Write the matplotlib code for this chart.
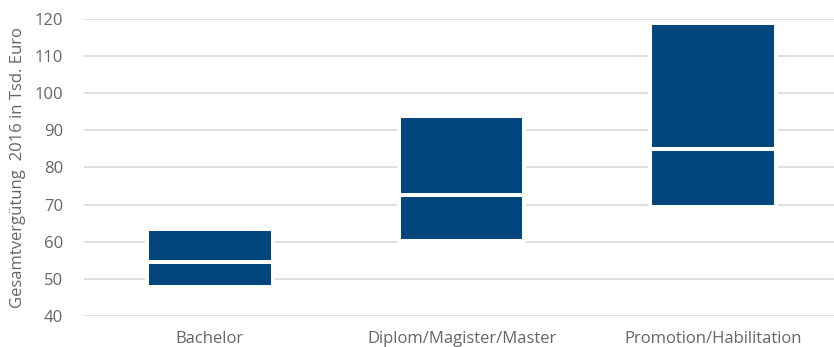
import numpy as np
import matplotlib.pyplot as plt

# Abschluss-Kategorien und Quartile der Gesamtvergütung (Tsd. Euro)
categories = ['Bachelor', 'Diplom/Magister/Master', 'Promotion/Habilitation']
lower_quartile = [47.8, 60.3, 69.4]
median = [54.5, 72.6, 85.1]
upper_quartile = [63.4, 93.8, 118.8]

blue = '#00457c'
grey = '#666666'
plt.rcParams['font.family'] = ['Open Sans', 'DejaVu Sans']

fig = plt.figure(figsize=(8.34, 3.47), dpi=100)
ax = fig.add_axes([0.1007, 0.0893, 0.8993, 0.856])

x = np.arange(len(categories))
low = np.array(lower_quartile)
med = np.array(median)
up = np.array(upper_quartile)

# lower box (Q1 to median) and upper box (median to Q3)
ax.bar(x, med - low, bottom=low, width=0.5, color=blue,
       edgecolor='white', linewidth=2.9, zorder=3)
ax.bar(x, up - med, bottom=med, width=0.5, color=blue,
       edgecolor='white', linewidth=2.9, zorder=3)

ax.set_ylim(40, 120)
ax.set_xlim(-0.5, 2.48)
ax.set_yticks(np.arange(40, 121, 10))
ax.set_xticks(x)
ax.set_xticklabels(categories)
ax.yaxis.grid(True, color='#d9d9d9', linewidth=1.2, zorder=0)
ax.set_axisbelow(True)
for s in ax.spines.values():
    s.set_visible(False)
ax.tick_params(axis='both', length=0, labelsize=12, colors=grey)
ax.tick_params(axis='y', pad=15)
ax.tick_params(axis='x', pad=11)
ax.set_ylabel('Gesamtvergütung  2016 in Tsd. Euro', fontsize=12, color=grey,
              labelpad=6)

fig.savefig('out.png', dpi=100)
